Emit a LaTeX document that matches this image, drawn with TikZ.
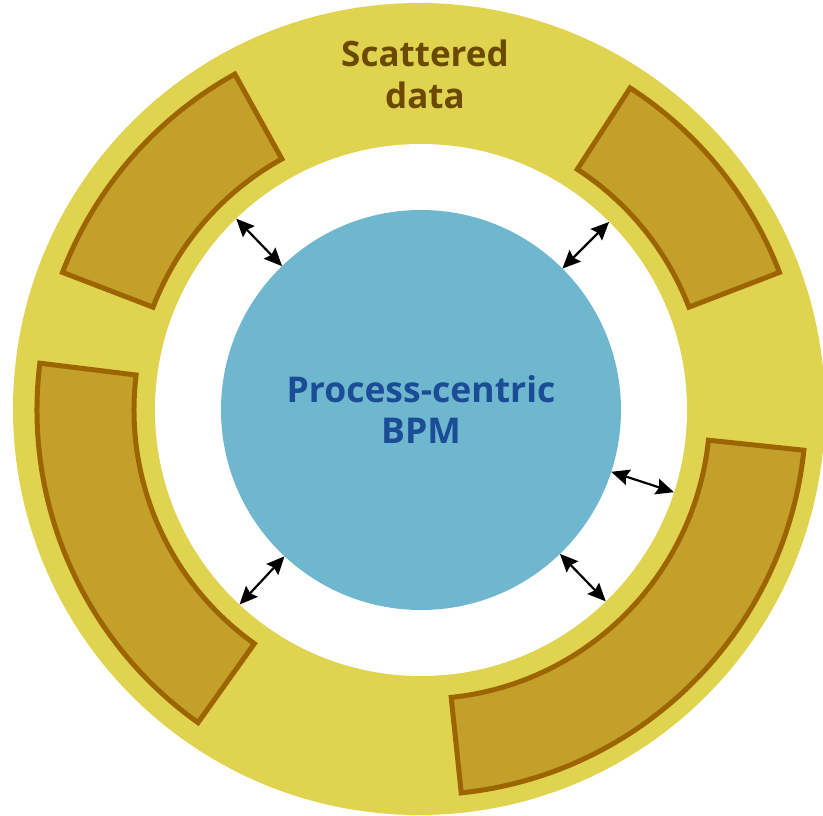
\documentclass[tikz,border=0pt]{standalone}
\usepackage{fontspec}
\setmainfont{Open Sans}
\usetikzlibrary{arrows.meta}

\definecolor{ringyellow}{HTML}{DFD350}
\definecolor{segfill}{HTML}{C3A02A}
\definecolor{segedge}{HTML}{9C6500}
\definecolor{bpmblue}{HTML}{6FB7CF}
\definecolor{bpmtext}{HTML}{1B4C96}
\definecolor{datatext}{HTML}{6B4A00}

\tikzset{
  segment/.style={fill=segfill, draw=segedge, line width=5pt, line join=miter},
  linkarrow/.style={line width=2.2pt, >={Stealth[length=18pt,width=16pt,inset=2.5pt]}, <->},
  disc/.style={circle, inner sep=0pt, outer sep=0pt},
}

% annular sector between radii #3 (inner) and #4 (outer), angles #1 to #2
\newcommand{\sector}[4]{%
  \draw[segment] (#1:#3) arc[start angle=#1, end angle=#2, radius=#3]
    -- (#2:#4) arc[start angle=#2, end angle=#1, radius=#4] -- cycle;}

\begin{document}
\begin{tikzpicture}
  \useasboundingbox (-421pt,-405pt) rectangle (402pt,410pt);
  \clip (-421pt,-405pt) rectangle (402pt,410pt);

  % outer data ring
  \node[disc, fill=ringyellow, minimum size=812pt] (outer) at (-2pt,1pt) {};

  % scattered data fragments
  \sector{119}{159}{287pt}{384pt}
  \sector{21}{57}{287pt}{384pt}
  \sector{173}{234.5}{287pt}{384pt}
  \sector{-84}{-6}{289pt}{385pt}

  % white gap and central process
  \node[disc, fill=white, minimum size=532pt] (ring) at (0,0) {};
  \node[disc, fill=bpmblue, minimum size=400pt, align=center,
        text=bpmtext, font=\fontsize{35.5}{41}\selectfont\bfseries] (bpm) at (0,0)
        {Process-centric\\BPM};

  \node[align=center, text=datatext, inner sep=0pt,
        font=\fontsize{35}{42}\selectfont\bfseries] (data) at (4pt,336pt)
        {Scattered\\data};

  % links between the process and the data
  \draw[linkarrow] (bpm.134.5) -- (ring.134.5);
  \draw[linkarrow] (bpm.45.5) -- (ring.45.5);
  \draw[linkarrow] (bpm.-18) -- (ring.-18);
  \draw[linkarrow] (bpm.-133.6) -- (ring.-133.6);
  \draw[linkarrow] (bpm.-46.4) -- (ring.-46.4);
\end{tikzpicture}
\end{document}
